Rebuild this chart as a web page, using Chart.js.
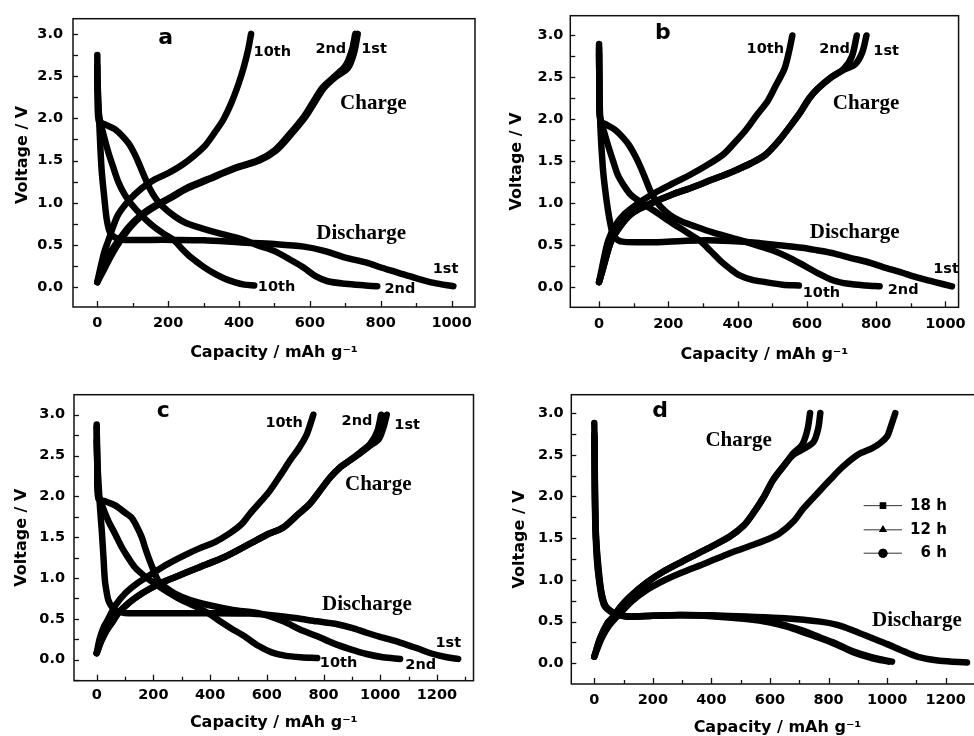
<!DOCTYPE html>
<html><head><meta charset="utf-8">
<script src="https://cdn.jsdelivr.net/npm/chart.js@4.4.1/dist/chart.umd.min.js"></script>
<style>
html,body{margin:0;padding:0;background:#fff;overflow:hidden;width:974px;height:736px;}
.p{position:absolute;}
canvas{display:block;}
</style></head><body>
<div class="p" style="left:0;top:0"><canvas id="ca" width="487" height="368"></canvas></div>
<div class="p" style="left:487px;top:0"><canvas id="cb" width="487" height="368"></canvas></div>
<div class="p" style="left:0;top:368px"><canvas id="cc" width="487" height="368"></canvas></div>
<div class="p" style="left:487px;top:368px"><canvas id="cd" width="508" height="370"></canvas></div>
<script>
// ---------- tick labels ----------
const yTicks = [0, 0.5, 1.0, 1.5, 2.0, 2.5, 3.0];
const xTicksAB = [0, 200, 400, 600, 800, 1000];
const xTicksCD = [0, 200, 400, 600, 800, 1000, 1200];

// ---------- panel a : [capacity mAh/g, voltage V] ----------
const aDis1 = [[0,2.47],[2,2.3],[6,1.9],[12,1.40],[20,1.05],[26,0.82],[33,0.68],[40,0.62],[60,0.57],[78,0.56],[150,0.56],[218,0.56],[300,0.555],[406,0.53],[500,0.51],[583,0.48],[640,0.43],[700,0.35],[760,0.29],[803,0.23],[850,0.17],[897,0.11],[950,0.05],[1005,0.01]];
const aDis2 = [[0,2.75],[1,2.3],[4,1.97],[20,1.93],[50,1.87],[87,1.71],[105,1.58],[120,1.44],[134,1.30],[148,1.17],[165,1.05],[181,0.97],[218,0.84],[250,0.76],[293,0.70],[350,0.63],[406,0.57],[450,0.50],[499,0.43],[551,0.31],[583,0.23],[616,0.13],[650,0.07],[700,0.04],[757,0.02],[790,0.01]];
const aDis10 = [[0,2.62],[1,2.3],[5,2.03],[18,1.80],[31,1.60],[45,1.42],[59,1.25],[77,1.10],[97,0.98],[125,0.85],[153,0.74],[185,0.64],[218,0.55],[240,0.45],[265,0.35],[300,0.24],[331,0.16],[360,0.10],[387,0.06],[415,0.03],[443,0.02]];
const aChg1 = [[0,0.06],[18,0.20],[40,0.38],[65,0.55],[95,0.72],[130,0.86],[165,0.96],[205,1.05],[255,1.17],[317,1.28],[385,1.40],[457,1.50],[505,1.62],[545,1.80],[588,2.02],[615,2.20],[640,2.36],[670,2.48],[708,2.60],[725,2.78],[735,3.0]];
const aChg2 = [[0,0.06],[15,0.22],[35,0.40],[59,0.55],[90,0.72],[125,0.86],[160,0.96],[200,1.05],[250,1.17],[312,1.28],[380,1.40],[452,1.50],[500,1.62],[540,1.80],[583,2.02],[610,2.20],[635,2.36],[665,2.48],[700,2.62],[718,2.80],[728,3.0]];
const aChg10 = [[0,0.06],[10,0.25],[20,0.42],[31,0.55],[45,0.72],[59,0.86],[90,1.03],[125,1.17],[160,1.27],[200,1.35],[240,1.45],[274,1.56],[305,1.68],[331,1.83],[355,1.98],[378,2.18],[398,2.40],[413,2.60],[425,2.80],[434,3.0]];

// ---------- panel b ----------
const bDis1 = [[0,2.78],[1,2.4],[4,1.9],[11,1.42],[18,1.15],[26,0.91],[33,0.75],[40,0.63],[55,0.56],[73,0.54],[120,0.535],[168,0.535],[240,0.55],[311,0.56],[380,0.55],[453,0.53],[520,0.50],[586,0.47],[629,0.44],[680,0.40],[725,0.35],[775,0.30],[820,0.24],[870,0.18],[915,0.12],[970,0.06],[1019,0.01]];
const bDis2 = [[0,2.9],[1,2.4],[4,1.98],[20,1.94],[45,1.88],[70,1.78],[87,1.69],[105,1.56],[121,1.42],[135,1.28],[149,1.14],[163,1.04],[178,0.96],[205,0.86],[235,0.79],[280,0.72],[330,0.65],[390,0.58],[440,0.52],[500,0.44],[540,0.37],[582,0.28],[630,0.17],[677,0.08],[720,0.04],[770,0.02],[810,0.01]];
const bDis10 = [[0,2.85],[1,2.4],[2,2.05],[14,1.86],[26,1.69],[40,1.51],[54,1.34],[72,1.21],[92,1.10],[125,1.00],[159,0.91],[187,0.83],[216,0.75],[255,0.65],[292,0.55],[320,0.44],[349,0.32],[378,0.22],[406,0.14],[440,0.09],[481,0.06],[530,0.03],[577,0.02]];
const bChg1 = [[0,0.06],[10,0.20],[22,0.38],[35,0.55],[60,0.72],[92,0.87],[130,0.96],[168,1.03],[215,1.11],[263,1.18],[325,1.28],[387,1.38],[440,1.48],[481,1.58],[520,1.75],[552,1.92],[582,2.09],[605,2.24],[630,2.36],[670,2.50],[706,2.59],[740,2.66],[760,2.80],[772,3.0]];
const bChg2 = [[0,0.06],[10,0.20],[22,0.38],[35,0.55],[60,0.72],[92,0.87],[130,0.96],[168,1.03],[215,1.11],[263,1.18],[325,1.28],[387,1.38],[440,1.48],[481,1.58],[520,1.75],[552,1.92],[582,2.09],[605,2.24],[630,2.36],[670,2.50],[706,2.60],[730,2.75],[744,3.0]];
const bChg10 = [[0,0.06],[8,0.22],[16,0.38],[26,0.55],[45,0.72],[73,0.87],[120,1.02],[168,1.14],[215,1.24],[263,1.34],[310,1.45],[358,1.58],[393,1.73],[425,1.88],[455,2.05],[487,2.22],[510,2.40],[535,2.60],[548,2.80],[558,3.0]];

// ---------- panel c ----------
const cDis1 = [[0,2.68],[2,2.45],[6,2.19],[12,1.85],[18,1.58],[24,1.25],[29,0.97],[35,0.83],[41,0.73],[53,0.65],[65,0.61],[88,0.58],[111,0.57],[250,0.57],[394,0.57],[541,0.565],[600,0.55],[700,0.51],[776,0.47],[841,0.44],[900,0.39],[952,0.33],[1010,0.27],[1070,0.21],[1130,0.14],[1187,0.07],[1235,0.03],[1275,0.01]];
const cDis2 = [[0,2.85],[2,2.4],[6,1.97],[30,1.94],[65,1.89],[100,1.80],[123,1.74],[140,1.64],[159,1.50],[170,1.38],[182,1.26],[200,1.10],[217,0.97],[245,0.88],[276,0.81],[330,0.73],[394,0.67],[480,0.61],[570,0.57],[658,0.47],[717,0.37],[776,0.29],[835,0.20],[893,0.13],[952,0.07],[1010,0.03],[1070,0.01]];
const cDis10 = [[0,2.88],[2,2.4],[6,2.03],[20,1.88],[41,1.70],[65,1.54],[88,1.38],[111,1.25],[135,1.13],[170,1.02],[206,0.93],[250,0.83],[300,0.73],[350,0.65],[394,0.57],[435,0.47],[476,0.38],[520,0.29],[570,0.17],[617,0.09],[664,0.05],[720,0.03],[778,0.02]];
const cChg1 = [[0,0.08],[15,0.22],[35,0.36],[55,0.46],[76,0.57],[115,0.70],[159,0.81],[215,0.92],[276,1.01],[360,1.13],[453,1.26],[541,1.42],[600,1.53],[658,1.62],[710,1.78],[752,1.91],[790,2.08],[823,2.23],[860,2.36],[893,2.44],[930,2.53],[964,2.62],[995,2.70],[1012,2.85],[1023,3.0]];
const cChg2 = [[0,0.08],[15,0.22],[35,0.36],[55,0.46],[76,0.57],[115,0.70],[159,0.81],[215,0.92],[276,1.01],[360,1.13],[453,1.26],[541,1.42],[600,1.53],[658,1.62],[710,1.78],[752,1.91],[790,2.08],[823,2.23],[860,2.36],[893,2.44],[930,2.54],[964,2.64],[990,2.80],[1003,3.0]];
const cChg10 = [[0,0.08],[10,0.25],[25,0.40],[41,0.50],[65,0.66],[100,0.81],[145,0.94],[194,1.05],[250,1.17],[311,1.28],[360,1.36],[417,1.44],[470,1.55],[511,1.66],[541,1.79],[582,1.95],[611,2.07],[650,2.27],[682,2.44],[715,2.60],[741,2.76],[755,2.90],[764,3.0]];

// ---------- panel d : 18 h / 12 h / 6 h ----------
const dDis18 = [[0,2.75],[1,2.5],[2,2.0],[4,1.6],[10,1.2],[18,0.95],[26,0.78],[36,0.68],[55,0.62],[80,0.58],[111,0.56],[200,0.57],[293,0.58],[400,0.575],[520,0.56],[650,0.54],[772,0.50],[830,0.46],[886,0.39],[950,0.30],[1000,0.23],[1060,0.14],[1113,0.07],[1180,0.03],[1273,0.01]];
const dDis12 = [[0,2.88],[1,2.64],[2,2.2],[3,1.9],[6,1.5],[14,1.16],[22,0.90],[30,0.76],[40,0.67],[60,0.62],[80,0.59],[111,0.565],[200,0.57],[293,0.58],[400,0.57],[520,0.54],[601,0.50],[658,0.45],[715,0.39],[772,0.31],[830,0.23],[886,0.14],[950,0.07],[1017,0.02]];
const dDis6 = [[0,2.72],[1,2.5],[2,2.1],[4,1.7],[10,1.25],[18,0.98],[27,0.80],[38,0.69],[58,0.62],[80,0.585],[111,0.56],[200,0.57],[293,0.575],[400,0.565],[520,0.53],[601,0.49],[658,0.44],[715,0.37],[772,0.30],[830,0.22],[886,0.13],[950,0.06],[1005,0.02]];
const dChg18 = [[0,0.08],[25,0.30],[50,0.45],[88,0.60],[130,0.75],[179,0.88],[236,0.99],[293,1.08],[380,1.20],[463,1.32],[550,1.43],[601,1.50],[634,1.56],[680,1.70],[715,1.86],[760,2.03],[805,2.20],[850,2.36],[900,2.50],[950,2.58],[977,2.64],[1000,2.72],[1011,2.82],[1028,3.0]];
const dChg12 = [[0,0.08],[20,0.30],[45,0.48],[65,0.56],[90,0.68],[122,0.80],[180,0.97],[236,1.10],[300,1.22],[350,1.31],[400,1.40],[463,1.52],[510,1.65],[543,1.80],[580,2.00],[611,2.20],[650,2.38],[680,2.50],[720,2.58],[750,2.66],[765,2.82],[772,3.0]];
const dChg6 = [[0,0.08],[20,0.30],[45,0.48],[65,0.56],[90,0.68],[122,0.80],[180,0.97],[236,1.10],[300,1.22],[350,1.31],[400,1.40],[463,1.52],[510,1.65],[543,1.80],[580,2.00],[611,2.20],[650,2.38],[680,2.52],[710,2.62],[728,2.80],[737,3.0]];

const seriesLabelsD = ['18 h', '12 h', '6 h'];

// ---------- drawing ----------
const SANS = '"DejaVu Sans", "Liberation Sans", Arial, sans-serif';
const SERIF = '"Liberation Serif", "Times New Roman", serif';

const framePlugin = {
  id: 'frame',
  afterDatasetsDraw(chart, args, o) {
    const {ctx, chartArea: a, scales: {x, y}} = chart;
    ctx.save();
    ctx.strokeStyle = '#111';
    ctx.lineWidth = 1.5;
    ctx.strokeRect(a.left, a.top, a.right - a.left, a.bottom - a.top);
    ctx.lineWidth = 1.3;
    const xs = o.xTicks, ys = o.yTicks;
    const xh = (xs[1] - xs[0]) / 2, yh = (ys[1] - ys[0]) / 2;
    for (let v = xs[0] - 2 * xh; v <= x.max; v += xh) {
      if (v < x.min) continue;
      const px = Math.round(x.getPixelForValue(v)) + 0.5;
      const len = xs.includes(v) ? 6 : 4;
      ctx.beginPath(); ctx.moveTo(px, a.bottom); ctx.lineTo(px, a.bottom - len); ctx.stroke();
    }
    for (let v = ys[0] - 2 * yh; v <= y.max; v += yh) {
      if (v < y.min) continue;
      const py = Math.round(y.getPixelForValue(v)) + 0.5;
      ctx.beginPath(); ctx.moveTo(a.left, py); ctx.lineTo(a.left + 5, py); ctx.stroke();
    }
    ctx.fillStyle = '#000';
    ctx.textBaseline = 'middle';
    for (const l of o.labels) {
      ctx.font = l.f;
      ctx.textAlign = l.al || 'center';
      ctx.fillText(l.t, x.getPixelForValue(l.x), y.getPixelForValue(l.y));
    }
    if (o.legend) {
      const L = o.legend;
      const styles = ['rect', 'triangle', 'circle'];
      L.rows.forEach((ry, i) => {
        const py = y.getPixelForValue(ry);
        ctx.strokeStyle = '#333'; ctx.lineWidth = 1;
        ctx.beginPath();
        ctx.moveTo(x.getPixelForValue(L.x1), py); ctx.lineTo(x.getPixelForValue(L.x2), py); ctx.stroke();
        Chart.helpers.drawPoint(ctx, {pointStyle: styles[i], radius: 4.5, rotation: 0, borderWidth: 0}, x.getPixelForValue(L.xm), py);
        ctx.fillStyle = '#000';
        ctx.fill();
        ctx.font = 'bold 15px ' + SANS;
        ctx.textAlign = 'right';
        ctx.fillText(L.names[i], x.getPixelForValue(L.xt), py);
      });
    }
    ctx.restore();
  }
};

function mkDs(pts, label, ps) {
  return {
    label, pointStyle: ps,
    data: pts.map(p => ({x: p[0], y: p[1]})),
    borderColor: '#000', backgroundColor: '#000', borderWidth: 6.5,
    pointRadius: 0, tension: 0.3, fill: false,
    borderCapStyle: 'round', borderJoinStyle: 'round'
  };
}

function makePanel(id, c) {
  const tickFont = {family: SANS, weight: 'bold', size: 14.5};
  const titleFont = {family: SANS, weight: 'bold', size: 16};
  new Chart(document.getElementById(id), {
    type: 'line',
    data: {datasets: c.datasets},
    options: {
      responsive: false, animation: false, devicePixelRatio: 1,
      layout: {padding: {left: 0, top: c.padTop, right: c.padRight, bottom: 0}},
      plugins: {
        legend: {display: false}, tooltip: {enabled: false},
        frame: {xTicks: c.xTicks, yTicks: yTicks, labels: c.labels, legend: c.legend || null}
      },
      scales: {
        x: {
          type: 'linear', position: 'bottom', min: c.xMin, max: c.xMax,
          afterBuildTicks: s => { s.ticks = c.xTicks.map(v => ({value: v})); },
          afterFit: s => { s.height = c.xH; },
          grid: {display: false, drawTicks: false}, border: {display: false},
          ticks: {padding: c.xTickPad, font: tickFont, color: '#000', maxRotation: 0, autoSkip: false,
                  callback: v => String(v)},
          title: {display: true, text: 'Capacity / mAh g\u207B\u00B9', font: titleFont, color: '#000',
                  padding: {top: 0, bottom: c.xTitlePad}}
        },
        y: {
          type: 'linear', position: 'left', min: c.yMin, max: c.yMax,
          afterBuildTicks: s => { s.ticks = yTicks.map(v => ({value: v})); },
          afterFit: s => { s.width = c.yW; },
          grid: {display: false, drawTicks: false}, border: {display: false},
          ticks: {padding: c.yTickPad, font: tickFont, color: '#000', autoSkip: false,
                  callback: v => v.toFixed(1)},
          title: {display: true, text: c.yTitle || 'Voltage / V', font: titleFont, color: '#000',
                  padding: {top: c.yTitlePad, bottom: 0}}
        }
      }
    },
    plugins: [framePlugin]
  });
}

const fNum = 'bold 14.5px ' + SANS;
const fLet = 'bold 22px ' + SANS;
const fSer = 'bold 21px ' + SERIF;

makePanel('ca', {
  datasets: [mkDs(aDis1,'1st','triangle'), mkDs(aDis2,'2nd','circle'), mkDs(aDis10,'10th','rect'),
             mkDs(aChg1,'1st','triangle'), mkDs(aChg2,'2nd','circle'), mkDs(aChg10,'10th','rect')],
  xMin: -68.6, xMax: 1066, yMin: -0.235, yMax: 3.18, xTicks: xTicksAB,
  padTop: 14, padRight: 12, yW: 73, xH: 61, xTickPad: 8, yTickPad: 10, xTitlePad: 5.4, yTitlePad: 13.7,
  yTitle: '\u2003Voltage / V',
  labels: [
    {t:'a', x:193, y:2.95, f:fLet},
    {t:'10th', x:494, y:2.78, f:fNum}, {t:'2nd', x:659, y:2.82, f:fNum}, {t:'1st', x:781, y:2.82, f:fNum},
    {t:'Charge', x:779, y:2.18, f:fSer}, {t:'Discharge', x:745, y:0.63, f:fSer},
    {t:'1st', x:983, y:0.215, f:fNum}, {t:'2nd', x:854, y:-0.03, f:fNum}, {t:'10th', x:506, y:0.0, f:fNum}
  ]
});

makePanel('cb', {
  datasets: [mkDs(bDis1,'1st','triangle'), mkDs(bDis2,'2nd','circle'), mkDs(bDis10,'10th','rect'),
             mkDs(bChg1,'1st','triangle'), mkDs(bChg2,'2nd','circle'), mkDs(bChg10,'10th','rect')],
  xMin: -83, xMax: 1038, yMin: -0.24, yMax: 3.236, xTicks: xTicksAB,
  padTop: 12.7, padRight: 12, yW: 83.3, xH: 60.7, xTickPad: 8, yTickPad: 7, xTitlePad: 3.4, yTitlePad: 20.4,
  labels: [
    {t:'b', x:184, y:3.03, f:fLet},
    {t:'10th', x:480, y:2.84, f:fNum}, {t:'2nd', x:680, y:2.84, f:fNum}, {t:'1st', x:829, y:2.81, f:fNum},
    {t:'Charge', x:771, y:2.19, f:fSer}, {t:'Discharge', x:738, y:0.65, f:fSer},
    {t:'1st', x:1002, y:0.21, f:fNum}, {t:'2nd', x:878, y:-0.035, f:fNum}, {t:'10th', x:642, y:-0.067, f:fNum}
  ]
});

makePanel('cc', {
  datasets: [mkDs(cDis1,'1st','triangle'), mkDs(cDis2,'2nd','circle'), mkDs(cDis10,'10th','rect'),
             mkDs(cChg1,'1st','triangle'), mkDs(cChg2,'2nd','circle'), mkDs(cChg10,'10th','rect')],
  xMin: -80, xMax: 1329, yMin: -0.257, yMax: 3.245, xTicks: xTicksCD,
  padTop: 26.7, padRight: 13.5, yW: 74, xH: 55.3, xTickPad: 6, yTickPad: 9, xTitlePad: 3.4, yTitlePad: 12.1,
  labels: [
    {t:'c', x:235, y:3.04, f:fLet},
    {t:'10th', x:661, y:2.89, f:fNum}, {t:'2nd', x:918, y:2.92, f:fNum}, {t:'1st', x:1095, y:2.87, f:fNum},
    {t:'Charge', x:993, y:2.15, f:fSer}, {t:'Discharge', x:953, y:0.67, f:fSer},
    {t:'1st', x:1240, y:0.20, f:fNum}, {t:'2nd', x:1143, y:-0.07, f:fNum}, {t:'10th', x:853, y:-0.04, f:fNum}
  ]
});

makePanel('cd', {
  datasets: [mkDs(dDis18,seriesLabelsD[0],'rect'), mkDs(dDis12,seriesLabelsD[1],'triangle'), mkDs(dDis6,seriesLabelsD[2],'circle'),
             mkDs(dChg18,seriesLabelsD[0],'rect'), mkDs(dChg12,seriesLabelsD[1],'triangle'), mkDs(dChg6,seriesLabelsD[2],'circle')],
  xMin: -78.5, xMax: 1330, yMin: -0.248, yMax: 3.22, xTicks: xTicksCD,
  padTop: 26.7, padRight: 11.3, yW: 84.3, xH: 54, xTickPad: 8, yTickPad: 7.6, xTitlePad: 0.4, yTitlePad: 23.7,
  labels: [
    {t:'d', x:225, y:3.02, f:fLet},
    {t:'Charge', x:493, y:2.67, f:fSer}, {t:'Discharge', x:1102, y:0.51, f:fSer}
  ],
  legend: {x1: 920, x2: 1051, xm: 986, xt: 1204, rows: [1.89, 1.60, 1.32], names: seriesLabelsD}
});
</script>
</body></html>
